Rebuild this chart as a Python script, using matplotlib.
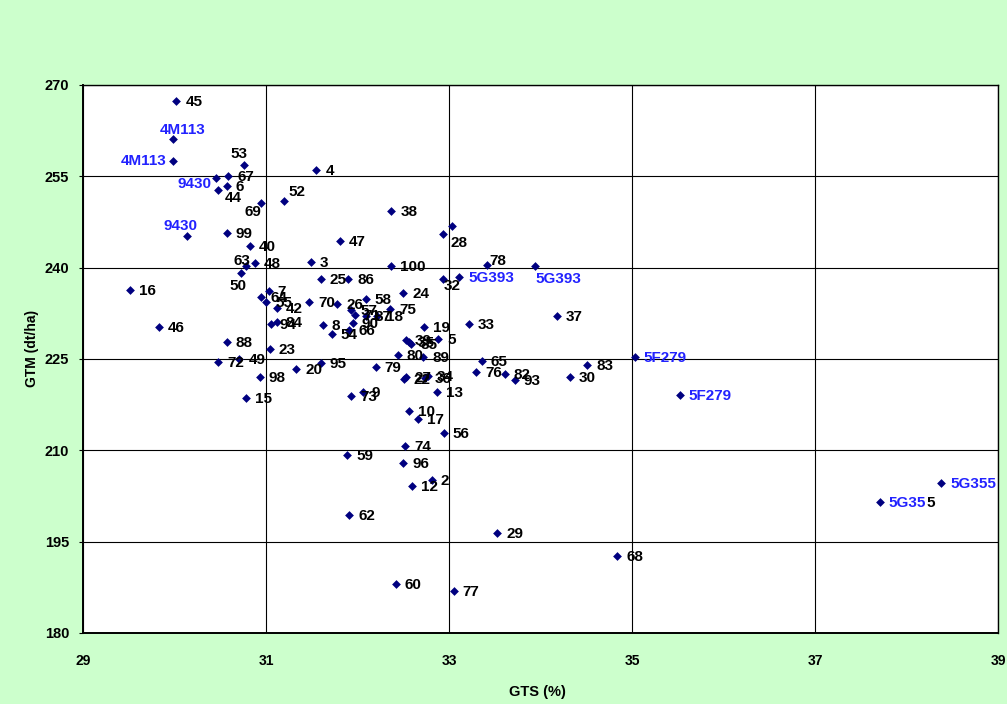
import matplotlib
matplotlib.use("Agg")
import matplotlib.pyplot as plt
from matplotlib import font_manager

# ---------------- data ----------------
labels = ["45", "4M113", "4M113", "53", "67", "9430", "6", "44", "69", "9430",
          "99", "40", "63", "48", "50", "16", "46", "88", "72", "49",
          "98", "15", "23", "4", "52", "38", "47", "3", "100", "25",
          "86", "7", "64", "55", "42", "94", "84", "70", "8", "54",
          "26", "57", "71", "58", "87", "18", "90", "66", "75", "24",
          "19", "5", "39", "35", "85", "80", "89", "79", "27", "22",
          "36", "34", "13", "65", "76", "82", "93", "83", "30", "37",
          "33", "32", "", "28", "78", "5G393", "5G393", "5F279", "5F279", "5G355",
          "5G35", "20", "95", "73", "9", "10", "17", "56", "74", "59",
          "96", "2", "12", "62", "29", "68", "60", "77"]
gts = [30.02, 29.98, 29.98, 30.76, 30.59, 30.45, 30.57, 30.48, 30.94, 30.14,
       30.57, 30.82, 30.78, 30.88, 30.73, 29.51, 29.83, 30.57, 30.48, 30.71,
       30.93, 30.78, 31.04, 31.55, 31.20, 32.37, 31.81, 31.49, 32.37, 31.60,
       31.90, 31.03, 30.95, 31.00, 31.12, 31.05, 31.12, 31.47, 31.62, 31.72,
       31.78, 31.93, 31.97, 32.09, 32.09, 32.21, 31.95, 31.91, 32.36, 32.50,
       32.73, 32.88, 32.53, 32.56, 32.59, 32.44, 32.72, 32.20, 32.53, 32.51,
       32.74, 32.77, 32.87, 33.36, 33.30, 33.61, 33.72, 34.51, 34.32, 34.18,
       33.22, 32.93, 33.03, 32.93, 33.41, 33.94, 33.11, 35.03, 35.52, 38.38,
       37.71, 31.33, 31.60, 31.93, 32.06, 32.56, 32.66, 32.94, 32.52, 31.89,
       32.50, 32.81, 32.60, 31.91, 33.53, 34.84, 32.42, 33.05]
gtm = [267.4, 261.1, 257.6, 256.8, 255.1, 254.7, 253.4, 252.7, 250.6, 245.2,
       245.7, 243.6, 240.2, 240.7, 239.2, 236.3, 230.3, 227.8, 224.5, 225.0,
       222.0, 218.6, 226.6, 256.0, 251.0, 249.3, 244.3, 241.0, 240.2, 238.1,
       238.1, 236.1, 235.2, 234.4, 233.3, 230.7, 231.0, 234.3, 230.6, 229.1,
       234.0, 233.0, 232.3, 234.8, 232.1, 232.1, 230.9, 229.8, 233.2, 235.8,
       230.2, 228.3, 228.2, 227.8, 227.5, 225.6, 225.3, 223.7, 222.1, 221.7,
       221.8, 222.2, 219.5, 224.7, 222.8, 222.5, 221.5, 224.0, 222.0, 232.0,
       230.7, 238.2, 246.9, 245.5, 240.4, 240.2, 238.5, 225.4, 219.1, 204.6,
       201.5, 223.3, 224.4, 218.9, 219.5, 216.5, 215.2, 212.9, 210.7, 209.2,
       208.0, 205.2, 204.1, 199.3, 196.4, 192.6, 188.0, 186.9]
variety_names = {"4M113", "9430", "5G393", "5F279", "5G355", "5G35"}

x_ticks = [29, 31, 33, 35, 37, 39]
y_ticks = [180, 195, 210, 225, 240, 255, 270]
x_title = "GTS (%)"
y_title = "GTM (dt/ha)"

# ---------------- style ----------------
BG = "#CCFFCC"
MARK = "#000080"
BLUE = "#2222FF"
FONT = ["Liberation Sans", "DejaVu Sans"]
plt.rcParams["font.family"] = FONT
installed = {f.name for f in font_manager.fontManager.ttflist}
NARROW = ["Liberation Sans Narrow"] + FONT if "Liberation Sans Narrow" in installed else FONT

# label offsets in pixels (dx, dy up) and alignment; default right of point
default_off = (9, -1, "left")
special_off = {
    ("4M113", 0): (10, 9, "center"),
    ("4M113", 1): (-6, 0, "right"),
    ("9430", 0): (-21, -6, "center"),
    ("9430", 1): (-7, 10, "center"),
    ("53", 0): (-5, 11, "center"),
    ("44", 0): (15, -8, "center"),
    ("69", 0): (-8, -9, "center"),
    ("63", 0): (-4, 5, "center"),
    ("50", 0): (-3, -13, "center"),
    ("52", 0): (13, 9, "center"),
    ("28", 0): (8, -9, "left"),
    ("32", 0): (10, -7, "center"),
    ("78", 0): (3, 4, "left"),
    ("5G393", 0): (23, -13, "center"),
}

W, H = 1007, 704
fig = plt.figure(figsize=(W / 100, H / 100), dpi=100, facecolor=BG)
ax = fig.add_axes([83 / W, 1 - 633 / H, (998 - 83) / W, (633 - 85) / H])
ax.set_facecolor("white")

ax.set_xlim(x_ticks[0], x_ticks[-1])
ax.set_ylim(y_ticks[0], y_ticks[-1])
ax.set_xticks(x_ticks)
ax.set_yticks(y_ticks)
ax.grid(True, color="black", linewidth=0.8)
ax.set_axisbelow(True)
for s in ax.spines.values():
    s.set_color("black")
    s.set_linewidth(1.0)
ax.spines["left"].set_linewidth(1.4)
ax.spines["bottom"].set_linewidth(1.4)

ax.tick_params(axis="x", length=0, pad=15)
ax.tick_params(axis="y", length=3, pad=7, direction="out")
for t in ax.get_xticklabels():
    t.set_fontweight("bold")
    t.set_fontsize(10)
    t.set_family(NARROW)
for t in ax.get_yticklabels():
    t.set_fontweight("bold")
    t.set_fontsize(10.5)

ax.set_xlabel(x_title, fontsize=10.5, fontweight="bold", family=NARROW)
ax.xaxis.set_label_coords(0.497, -0.095)
ax.set_ylabel(y_title, fontsize=10, fontweight="bold")
ax.yaxis.set_label_coords(-0.048, 0.52)

ax.scatter(gts, gtm, marker="D", s=20, color=MARK, zorder=3, linewidths=0)

seen = {}
for lab, xv, yv in zip(labels, gts, gtm):
    if not lab:
        continue
    k = seen.get(lab, 0)
    seen[lab] = k + 1
    dx, dy, ha = special_off.get((lab, k), default_off)
    col = BLUE if lab in variety_names else "black"
    t = ax.annotate(lab, (xv, yv), xytext=(dx, dy), textcoords="offset pixels",
                    ha=ha, va="center", fontsize=11, fontweight="bold",
                    color=col, zorder=4)
    if lab == "5G35":
        ax.annotate("5", xy=(1, 0.5), xycoords=t, ha="left", va="center",
                    fontsize=11, fontweight="bold", color="black", zorder=4)

fig.savefig("out.png", dpi=100, facecolor=BG)
